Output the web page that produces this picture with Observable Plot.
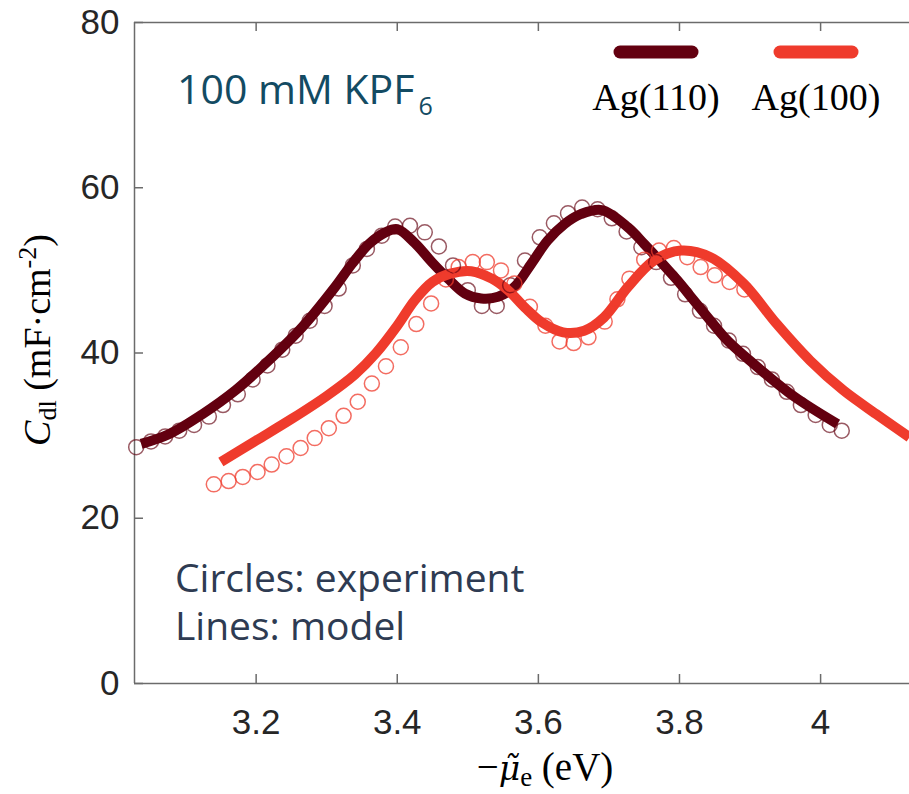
<!DOCTYPE html>
<html><head><meta charset="utf-8">
<script src="https://cdn.jsdelivr.net/npm/d3@7"></script>
<script src="https://cdn.jsdelivr.net/npm/@observablehq/plot@0.6"></script>
<style>html,body{margin:0;padding:0;background:#fff;}</style>
</head><body><div id="chart"></div>
<script>
// ---- data ----
const series = ["Ag(110)", "Ag(100)"];
const seriesColors = ["#630010", "#ef3b2c"];

// experiment (circles)
const ag110ExpX = [3.030,3.051,3.071,3.091,3.112,3.133,3.153,3.174,3.195,3.216,3.237,3.256,3.276,3.297,3.317,3.337,3.357,3.378,3.397,3.418,3.439,3.459,3.479,3.500,3.520,3.541,3.560,3.581,3.602,3.622,3.642,3.662,3.684,3.704,3.725,3.746,3.767,3.788,3.808,3.829,3.849,3.870,3.890,3.911,3.931,3.952,3.972,3.993,4.013,4.030];
const ag110ExpY = [28.6,29.3,29.9,30.6,31.3,32.3,33.7,35.0,36.8,38.5,40.4,42.1,43.9,45.7,47.8,50.6,52.6,54.2,55.3,55.4,54.6,52.9,50.6,47.6,45.7,45.7,48.2,51.2,54.0,55.7,56.9,57.6,57.4,56.3,54.7,52.8,51.0,49.1,47.1,45.1,43.3,41.5,39.9,38.3,36.8,35.3,33.7,32.5,31.3,30.6];
const ag100ExpX = [3.140,3.161,3.181,3.202,3.222,3.243,3.263,3.283,3.303,3.324,3.344,3.364,3.384,3.405,3.427,3.448,3.469,3.487,3.507,3.527,3.547,3.566,3.588,3.610,3.630,3.650,3.671,3.694,3.712,3.729,3.750,3.771,3.792,3.811,3.830,3.850,3.871,3.892];
const ag100ExpY = [24.1,24.5,25.0,25.6,26.5,27.5,28.5,29.7,30.9,32.4,34.1,36.3,38.4,40.7,43.5,46.0,48.9,50.4,51.0,51.0,50.0,48.4,45.6,43.3,41.4,41.2,41.9,43.8,46.5,49.0,51.3,52.4,52.7,51.6,50.4,49.4,48.6,47.7];

// model (lines)
const ag110ModelX = [3.037,3.077,3.124,3.171,3.218,3.265,3.312,3.336,3.360,3.383,3.400,3.425,3.449,3.472,3.496,3.519,3.543,3.566,3.590,3.613,3.637,3.660,3.690,3.727,3.750,3.774,3.797,3.820,3.844,3.868,3.916,3.963,4.024];
const ag110ModelY = [29.0,30.2,32.6,35.5,39.1,43.1,48.0,50.8,53.2,54.6,55.0,53.3,51.0,49.0,47.2,46.6,46.8,48.0,50.8,53.6,55.6,56.8,57.3,55.2,53.2,51.0,48.8,46.4,43.9,41.5,37.9,34.7,31.4];
const ag100ModelX = [3.150,3.200,3.250,3.300,3.340,3.370,3.400,3.425,3.450,3.475,3.505,3.534,3.557,3.581,3.605,3.635,3.665,3.693,3.727,3.764,3.802,3.844,3.891,3.938,3.985,4.032,4.079,4.126];
const ag100ModelY = [26.8,29.4,32.0,34.8,37.4,40.0,43.3,46.4,48.6,49.6,49.9,49.0,47.6,45.5,43.7,42.5,42.7,44.3,48.0,51.2,52.4,51.6,48.4,43.5,39.1,35.5,32.6,29.8];

// axes
const xTicks = [3.2, 3.4, 3.6, 3.8, 4];
const xTickLabels = ["3.2", "3.4", "3.6", "3.8", "4"];
const yTicks = [0, 20, 40, 60, 80];
const yTickLabels = ["0", "20", "40", "60", "80"];
const xDomain = [3.0276, 4.126];
const yDomain = [0, 80];

// ---- build tables ----
const toRows = (xs, ys) => xs.map((x, i) => ({x, y: ys[i]}));
const exp110 = toRows(ag110ExpX, ag110ExpY);
const exp100 = toRows(ag100ExpX, ag100ExpY);
const mod110 = toRows(ag110ModelX, ag110ModelY);
const mod100 = toRows(ag100ModelX, ag100ModelY);

const W = 909, H = 794, ML = 134, MR = 0, MT = 22, MB = 111;
const innerW = W - ML - MR, innerH = H - MT - MB;
const tickLen = 9;
const spine = {stroke: "#6b6b6b", strokeWidth: 1.5};

const plot = Plot.plot({
  width: W, height: H,
  marginLeft: ML, marginRight: MR, marginTop: MT, marginBottom: MB,
  x: {domain: xDomain},
  y: {domain: yDomain},
  style: {fontFamily: "'Liberation Sans', Arial, sans-serif", fontSize: "35px", color: "#262626", background: "#fff", overflow: "visible"},
  marks: [
    Plot.ruleX([xDomain[0]], spine),
    Plot.ruleY([yDomain[0], yDomain[1]], spine),
    // inward ticks (bottom, top, left)
    Plot.ruleX(xTicks, {...spine, insetTop: innerH - tickLen}),
    Plot.ruleX(xTicks, {...spine, insetBottom: innerH - tickLen}),
    Plot.ruleY(yTicks, {...spine, insetRight: innerW - tickLen}),
    Plot.axisX(xTicks, {anchor: "bottom", tickSize: 0, tickPadding: 26, label: null, fill: "#262626", tickFormat: d => xTickLabels[xTicks.indexOf(d)]}),
    Plot.axisY(yTicks, {anchor: "left", tickSize: 0, tickPadding: 15, label: null, fill: "#262626", tickFormat: d => yTickLabels[yTicks.indexOf(d)]}),
    Plot.line(mod110, {x: "x", y: "y", stroke: seriesColors[0], strokeWidth: 10, curve: "catmull-rom", strokeLinecap: "butt", strokeLinejoin: "round"}),
    Plot.line(mod100, {x: "x", y: "y", stroke: seriesColors[1], strokeWidth: 10, curve: "catmull-rom", strokeLinecap: "butt", strokeLinejoin: "round"}),
    Plot.dot(exp110, {x: "x", y: "y", r: 7.5, stroke: seriesColors[0], strokeOpacity: 0.65, strokeWidth: 1.5, fill: "none"}),
    Plot.dot(exp100, {x: "x", y: "y", r: 7.5, stroke: seriesColors[1], strokeOpacity: 0.75, strokeWidth: 1.5, fill: "none"})
  ]
});
document.getElementById("chart").appendChild(plot);

// ---- annotations ----
const svg = d3.select(plot);
const serif = "'Liberation Serif', 'Times New Roman', serif";
const sans = "'Open Sans', 'Noto Sans', sans-serif";

// y label
const yl = svg.append("text")
  .attr("transform", "translate(50,340) rotate(-90)")
  .attr("text-anchor", "middle")
  .attr("fill", "#000")
  .style("font-family", serif).style("font-size", "38px");
yl.append("tspan").attr("font-style", "italic").text("C");
yl.append("tspan").attr("font-size", "26px").attr("dy", 6).text("dl");
yl.append("tspan").attr("dy", -6).text(" (mF·cm");
yl.append("tspan").attr("font-size", "26px").attr("dy", -14).text("-2");
yl.append("tspan").attr("dy", 14).text(")");

// x label: mu with combining tilde (font with mark positioning)
const xl = svg.append("text")
  .attr("x", 545).attr("y", 780)
  .attr("text-anchor", "middle")
  .attr("fill", "#000")
  .style("font-family", serif).style("font-size", "39px");
xl.append("tspan").text("\u2212");
xl.append("tspan").attr("font-style", "italic").style("font-family", "'DejaVu Serif', serif").attr("font-size", "33px").text("\u03BC\u0303");
xl.append("tspan").attr("font-size", "27px").attr("dy", 6).text("e");
xl.append("tspan").attr("dy", -6).text(" (eV)");

// condition label
const cond = svg.append("text")
  .attr("x", 177).attr("y", 104)
  .attr("text-anchor", "start")
  .attr("fill", "#134b63")
  .style("font-family", sans).style("font-size", "41px");
cond.append("tspan").text("100 mM KPF");
cond.append("tspan").attr("font-size", "25px").attr("dx", 4).attr("dy", 11).text("6");

// note
const noteLines = ["Circles: experiment", "Lines: model"];
svg.append("g").selectAll("text").data(noteLines).join("text")
  .attr("x", 175).attr("y", (d, i) => 592 + i * 48)
  .attr("text-anchor", "start")
  .attr("fill", "#2e3b52")
  .style("font-family", sans).style("font-size", "39px")
  .text(d => d);

// legend
const legendX = [656, 816];
const lg = svg.append("g");
series.forEach((s, i) => {
  lg.append("line")
    .attr("x1", legendX[i] - 36).attr("x2", legendX[i] + 36)
    .attr("y1", 52).attr("y2", 52)
    .attr("stroke", seriesColors[i]).attr("stroke-width", 13).attr("stroke-linecap", "round");
  lg.append("text")
    .attr("x", legendX[i]).attr("y", 110)
    .attr("text-anchor", "middle").attr("fill", "#000")
    .style("font-family", serif).style("font-size", "38px")
    .text(s);
});
</script>
</body></html>
